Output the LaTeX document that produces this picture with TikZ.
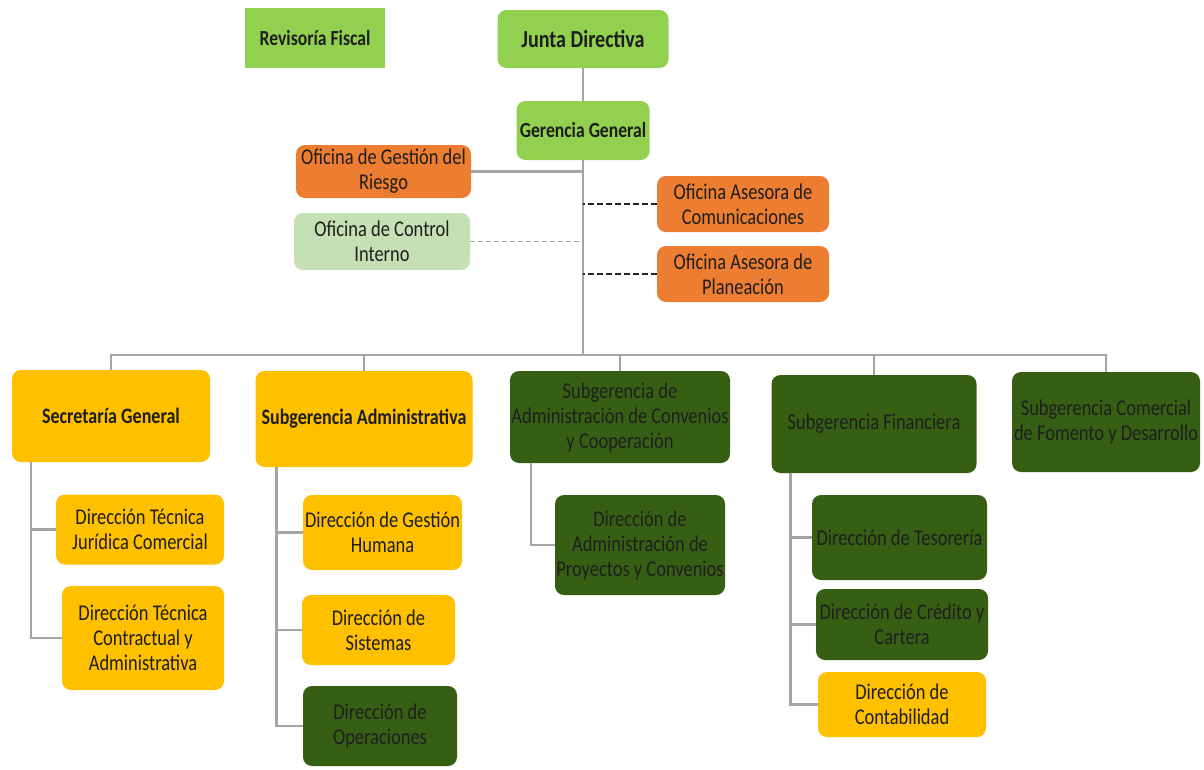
\documentclass[tikz,border=0pt]{standalone}
\usepackage{fontspec}
\setmainfont{Carlito}[FakeStretch=0.82]
\usepackage{xcolor}
\definecolor{orgltgreen}{RGB}{146,208,80}
\definecolor{orgpale}{RGB}{197,224,180}
\definecolor{orgorange}{RGB}{237,125,49}
\definecolor{orgyellow}{RGB}{255,192,0}
\definecolor{orgdkgreen}{RGB}{55,95,20}
\definecolor{orgline}{RGB}{165,165,165}
\definecolor{orgtext}{RGB}{30,30,30}

\begin{document}
\begin{tikzpicture}[
    x=1pt, y=-1pt,
    unit/.style={rectangle, rounded corners=9pt, fill=#1, text=orgtext, align=center, inner sep=0pt, font=\fontsize{22.5}{25}\selectfont},
    dims/.style 2 args={minimum width=#1pt, minimum height=#2pt},
    bold/.style={font=\bfseries\fontsize{22}{25}\selectfont},
    link/.style={draw=orgline, line width=2.5pt},
    dotlink/.style={draw=orgline, line width=1pt, dash pattern=on 5pt off 3pt},
    advlink/.style={draw=black!85, line width=2.8pt, dash pattern=on 6pt off 3pt}
]
\useasboundingbox (0,0) rectangle (1204,769);

% top of the chart
\node[unit=orgltgreen, sharp corners, dims={140}{60}, font=\bfseries\fontsize{21.5}{25}\selectfont] (fiscal) at (315,38) {Revisoría Fiscal};
\node[unit=orgltgreen, dims={171}{58}, font=\bfseries\fontsize{24.5}{28}\selectfont] (junta) at (583,39) {Junta Directiva};
\node[unit=orgltgreen, dims={133}{59}, font=\bfseries\fontsize{21.5}{25}\selectfont] (geren) at (583,130.5) {Gerencia General};

% offices beside the trunk
\node[unit=orgorange, dims={175}{53}] (riesgo) at (383.5,171.5) {Oficina de Gestión del\\Riesgo};
\node[unit=orgpale, dims={176}{57}] (control) at (382,241.5) {Oficina de Control\\Interno};
\node[unit=orgorange, dims={172}{56}] (comunic) at (743,204) {Oficina Asesora de\\Comunicaciones};
\node[unit=orgorange, dims={172}{56}] (planea) at (743,274) {Oficina Asesora de\\Planeación};

% second level
\node[unit=orgyellow, bold, dims={198}{92}] (secgen) at (111,416) {Secretaría General};
\node[unit=orgyellow, bold, dims={217}{96}] (subadm) at (364,419) {Subgerencia Administrativa};
\node[unit=orgdkgreen, dims={220}{92}] (subconv) at (620,417) {Subgerencia de\\Administración de Convenios\\y Cooperación};
\node[unit=orgdkgreen, dims={205}{98}] (subfin) at (874,424) {Subgerencia Financiera};
\node[unit=orgdkgreen, dims={188}{100}] (subcom) at (1106,422) {Subgerencia Comercial\\de Fomento y Desarrollo};

% directions
\node[unit=orgyellow, dims={168}{70}] (dtjc) at (140,529.5) {Dirección Técnica\\Jurídica Comercial};
\node[unit=orgyellow, dims={162}{104}] (dtca) at (143,638) {Dirección Técnica\\Contractual y\\Administrativa};
\node[unit=orgyellow, dims={159}{75}] (dgh) at (382.5,532.5) {Dirección de Gestión\\Humana};
\node[unit=orgyellow, dims={153}{70}] (dsis) at (378.5,630) {Dirección de\\Sistemas};
\node[unit=orgdkgreen, dims={154}{80}] (dope) at (380,726) {Dirección de\\Operaciones};
\node[unit=orgdkgreen, dims={170}{100}] (dapc) at (640,545) {Dirección de\\Administración de\\Proyectos y Convenios};
\node[unit=orgdkgreen, dims={175}{85}] (dtes) at (899.5,537.5) {Dirección de Tesorería};
\node[unit=orgdkgreen, dims={172}{71}] (dcc) at (902,624.5) {Dirección de Crédito y\\Cartera};
\node[unit=orgyellow, dims={168}{65}] (dcont) at (902,704.5) {Dirección de\\Contabilidad};

% connectors
\coordinate (hub) at (583,355);
\draw[link] (junta) -- (geren);
\draw[link] (geren) -- (hub);
\draw[link] (riesgo) -- (riesgo -| hub);
\draw[dotlink] (control) -- (control -| hub);
\draw[advlink] (comunic) -- (comunic -| hub);
\draw[advlink] (planea) -- (planea -| hub);
\draw[link] (secgen) |- (hub) -| (subcom);
\foreach \u in {subadm,subconv,subfin}
    \draw[link] (\u) -- (\u |- hub);

\foreach \k in {dtjc,dtca}
    \draw[link] ([xshift=19pt]secgen.south west) |- (\k);
\foreach \k in {dgh,dsis,dope}
    \draw[link] ([xshift=21pt]subadm.south west) |- (\k);
\draw[link] ([xshift=21pt]subconv.south west) |- (dapc);
\foreach \k in {dtes,dcc,dcont}
    \draw[link] ([xshift=19pt]subfin.south west) |- (\k);

\end{tikzpicture}
\end{document}
